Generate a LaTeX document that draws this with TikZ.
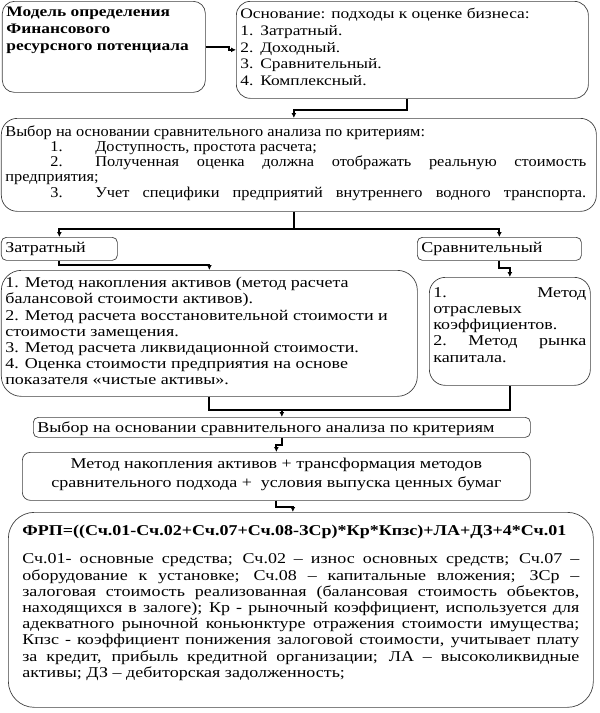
\documentclass[tikz,border=0pt]{standalone}
\usepackage{fontspec}
\setmainfont[FakeStretch=1.2]{Liberation Serif}
\newfontfamily\narrowfont[FakeStretch=1.09]{Liberation Serif}
\usetikzlibrary{positioning,arrows.meta}

\newcommand{\numitem}[1]{\makebox[20pt][l]{#1}}
\newcommand{\critem}[1]{\hspace*{45pt}\makebox[45pt][l]{#1}}

\begin{document}
\begin{tikzpicture}[x=1pt,y=-1pt,
    box/.style={draw=black!75, line width=0.7pt, anchor=north west, inner sep=4pt,
      font=\fontsize{15}{16.2}\selectfont},
    small/.style={font=\fontsize{14.5}{16.7}\selectfont},
    line/.style={line width=1.8pt},
    conn/.style={line width=1.8pt, -{Latex[length=5pt,width=5pt]}}]
    \useasboundingbox (0,0) rectangle (600,713);

    % top row
    \node[box, small, rounded corners=12pt] (model) at (2,1)
        {\parbox[c][83pt][t]{195pt}{\vspace*{2pt}\bfseries Модель определения\\ Финансового\\ ресурсного потенциала}};
    \node[box, small, rounded corners=14pt] (basis) at (236,1)
        {\parbox[c][89pt][t]{344pt}{\vspace*{3pt}Основание: подходы к оценке бизнеса:\\
            \numitem{1.}Затратный.\\ \numitem{2.}Доходный.\\ \numitem{3.}Сравнительный.\\ \numitem{4.}Комплексный.}};
    \draw[conn] (model.east) -- ++(23,0) |- (basis.west);

    % criteria
    \node[box, rounded corners=16pt, font=\narrowfont\fontsize{15}{15.3}\selectfont] (choice) at (1,118)
        {\parbox[c][85pt][t]{587pt}{\setlength{\parindent}{0pt}\rightskip=6pt\vspace*{3pt}%
            Выбор на основании сравнительного анализа по критериям:\par
            \critem{1.}Доступность, простота расчета;\par
            \critem{2.}Полученная оценка должна отображать реальную стоимость\linebreak предприятия;\par
            {\parfillskip=0pt \critem{3.}Учет специфики предприятий внутреннего водного транспорта.\par}}};
    \draw[conn] ([xshift=-5pt]basis.south) -- ++(0,11) -| ([xshift=-5pt]choice.north);

    % approaches
    \node[box, rounded corners=5pt] (costly) at (1,237) {\parbox[c][15pt][t]{108pt}{\vspace*{1pt}Затратный}};
    \node[box, rounded corners=5pt] (compar) at (417,237) {\parbox[c][15pt][t]{156pt}{\vspace*{1pt}Сравнительный}};
    \draw[line] ([xshift=-5pt]choice.south) -- ++(0,17) coordinate (split);
    \draw[conn] (split) -| (costly.north);
    \draw[conn] (split) -| (compar.north);

    % methods
    \node[box, rounded corners=20pt] (costmeth) at (1,270)
        {\parbox[c][118pt][t]{408pt}{\vspace*{3pt}1. Метод накопления активов (метод расчета\\ балансовой стоимости активов).\\
            2. Метод расчета восстановительной стоимости и\\ стоимости замещения.\\
            3. Метод расчета ликвидационной стоимости.\\
            4. Оценка стоимости предприятия на основе\\ показателя «чистые активы».}};
    \node[box, rounded corners=16pt] (compmeth) at (429,277)
        {\parbox[c][100pt][t]{153pt}{\vspace*{6pt}1.\hfill Метод\\ отраслевых\\ коэффициентов.\\ 2.\hfill Метод\hfill рынка\\ капитала.}};
    \draw[conn] (costly.south) -- ++(0,4) -| (costmeth.north);
    \draw[conn] (compar.south) -- ++(0,7) -| (compmeth.north);

    % second choice
    \node[box, rounded corners=5pt] (choice2) at (33,417)
        {\parbox[c][12pt][t]{489pt}{Выбор на основании сравнительного анализа по критериям}};
    \draw[line] (costmeth.south) -- ++(0,13) coordinate (join) -| (compmeth.south);
    \draw[conn] (join -| choice2.north) -- (choice2.north);

    \node[box, rounded corners=8pt, font=\fontsize{15}{19}\selectfont] (combo) at (22,452)
        {\parbox[c][40pt][t]{500pt}{\vspace*{2pt}\centering Метод накопления активов + трансформация методов\\
            сравнительного подхода +\ \ условия выпуска ценных бумаг}};
    \draw[conn] (choice2.south) -- ++(0,7) -| (combo.north);

    % formula
    \node[box, rounded corners=26pt] (formula) at (8,512)
        {\parbox[c][187pt][t]{577pt}{\setlength{\parindent}{0pt}\hspace*{10pt}\parbox[t]{557pt}{\vspace{9pt}%
            {\bfseries ФРП=((Сч.01-Сч.02+Сч.07+Сч.08-ЗСр)*Кр*Кпзс)+ЛА+ДЗ+4*Сч.01}\par\vspace{12pt}
            Сч.01- основные средства; Сч.02 – износ основных средств; Сч.07 –\linebreak
            оборудование к установке; Сч.08 – капитальные вложения; ЗСр –\linebreak
            залоговая стоимость реализованная (балансовая стоимость обьектов,\linebreak
            находящихся в залоге); Кр - рыночный коэффициент, используется для\linebreak
            адекватного рыночной коньюнктуре отражения стоимости имущества;\linebreak
            Кпзс - коэффициент понижения залоговой стоимости, учитывает плату\linebreak
            за кредит, прибыль кредитной организации; ЛА – высоколиквидные\linebreak
            активы; ДЗ – дебиторская задолженность;}}};
    \draw[conn] (combo.south) -- ++(0,6) -| ([xshift=-8pt]formula.north);
\end{tikzpicture}
\end{document}
